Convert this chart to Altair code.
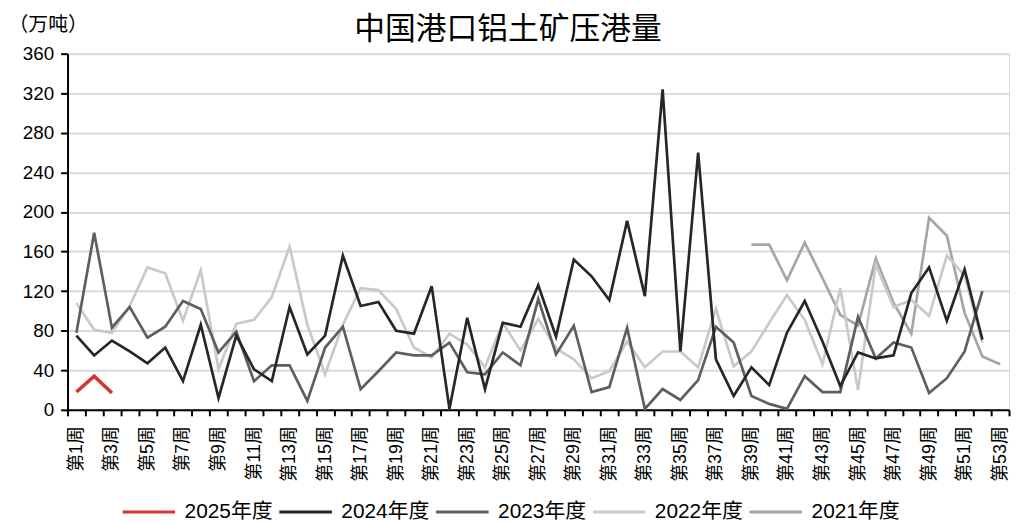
import altair as alt
import pandas as pd

# ---------------- data ----------------
weeks = list(range(1, 54))
series_names = ["2025年度", "2024年度", "2023年度", "2022年度", "2021年度"]
series_colors = ["#d7342b", "#262626", "#5e5e60", "#c9c9c9", "#a5a5a5"]
y_ticks = [0, 40, 80, 120, 160, 200, 240, 280, 320, 360]
title_text = "中国港口铝土矿压港量"
unit_text = "（万吨）"

v2025 = [18, 34, 17]
v2024 = [75, 55, 70, 59, 47, 63, 29, 86, 12, 75, 41, 29, 104, 56, 75, 156, 105, 109,
         80, 77, 125, 1, 93, 21, 88, 84, 126, 74, 152, 135, 111, 191, 115, 324, 59,
         260, 51, 14, 43, 25, 78, 110, 69, 24, 58, 52, 55, 118, 144, 90, 142, 71]
v2023 = [78, 179, 83, 104, 73, 84, 110, 102, 58, 79, 29, 45, 45, 9, 63, 84, 21, 39,
         58, 55, 55, 68, 38, 36, 58, 45, 112, 56, 85, 18, 23, 83, 1, 21, 10, 30, 84,
         68, 14, 6, 1, 34, 18, 18, 94, 52, 68, 63, 17, 32, 59, 120]
v2022 = [108, 81, 78, 105, 144, 138, 90, 141, 41, 87, 91, 114, 165, 86, 36, 86, 123,
         121, 102, 63, 53, 77, 66, 43, 88, 60, 92, 62, 51, 32, 39, 69, 43, 59, 59, 43,
         102, 44, 59, 88, 116, 91, 46, 123, 20, 147, 104, 111, 95, 156, 136, 68]
v2021_start_week = 39
v2021 = [167, 167, 131, 169, 133, 96, 85, 153, 108, 77, 194, 176, 98, 54, 46]

# draw order: 2021 at the bottom, 2025 on top
rows = []
for name, vals, start in [("2021年度", v2021, v2021_start_week),
                          ("2022年度", v2022, 1),
                          ("2023年度", v2023, 1),
                          ("2024年度", v2024, 1),
                          ("2025年度", v2025, 1)]:
    for i, v in enumerate(vals):
        rows.append({"series": name, "week": weeks[start - 1 + i], "value": v})
df = pd.DataFrame(rows)

FONT = "Liberation Sans, Noto Sans CJK SC, sans-serif"
boundaries = [w - 0.5 for w in weeks] + [weeks[-1] + 0.5]

x_enc = alt.X(
    "week:Q",
    scale=alt.Scale(domain=[boundaries[0], boundaries[-1]], nice=False, zero=False),
    axis=alt.Axis(
        values=boundaries,
        labelExpr="((datum.value + 0.5) % 2 == 1 && datum.value < 53) ? '第' + (datum.value + 0.5) + '周' : ''",
        labelAngle=270,
        labelAlign="right",
        labelBaseline="middle",
        labelOffset=9,
        labelPadding=10,
        labelFontSize=18,
        labelColor="#000000",
        labelFont=FONT,
        labelOverlap=False,
        labelFlush=False,
        tickSize=6,
        tickWidth=2,
        tickColor="#000000",
        domainColor="#000000",
        domainWidth=2,
        grid=False,
        title=None,
    ),
)

y_enc = alt.Y(
    "value:Q",
    scale=alt.Scale(domain=[y_ticks[0], y_ticks[-1]], nice=False),
    axis=alt.Axis(
        values=y_ticks,
        labelFontSize=19,
        labelColor="#000000",
        labelFont=FONT,
        labelPadding=7,
        tickSize=7,
        tickWidth=2,
        tickColor="#000000",
        domainColor="#000000",
        domainWidth=2,
        grid=True,
        gridColor="#d9d9d9",
        gridWidth=2,
        title=unit_text,
        titleAngle=0,
        titleAlign="left",
        titleBaseline="middle",
        titleX=-60,
        titleY=-29,
        titleFontSize=20,
        titleFontWeight="normal",
        titleFont=FONT,
        titleColor="#000000",
    ),
)

lines = alt.Chart(df).mark_line(strokeJoin="miter").encode(
    x=x_enc,
    y=y_enc,
    color=alt.Color(
        "series:N",
        scale=alt.Scale(domain=series_names, range=series_colors),
        legend=alt.Legend(
            title=None,
            orient="none",
            direction="horizontal",
            legendX=54,
            legendY=434,
            symbolType="stroke",
            symbolSize=2800,
            symbolStrokeWidth=3,
            labelFontSize=21,
            labelFont=FONT,
            labelColor="#000000",
            labelOffset=8,
            columnPadding=0,
            labelLimit=200,
        ),
    ),
    strokeWidth=alt.condition(alt.datum.series == "2025年度", alt.value(3.6), alt.value(2.7)),
    detail="series:N",
)

title_layer = alt.Chart(pd.DataFrame({"t": [title_text]})).mark_text(
    fontSize=31, font=FONT, color="#000000", align="center", baseline="middle"
).encode(text="t:N", x=alt.value(444), y=alt.value(-24))

chart = alt.layer(lines, title_layer).properties(
    width=949,
    height=359,
    autosize=alt.AutoSizeParams(type="none"),
    padding={"left": 60, "top": 44, "right": 3, "bottom": 112},
).configure_view(stroke=None).configure(background="#ffffff")

chart.save("out.html", embed_options={"renderer": "svg", "actions": False})
